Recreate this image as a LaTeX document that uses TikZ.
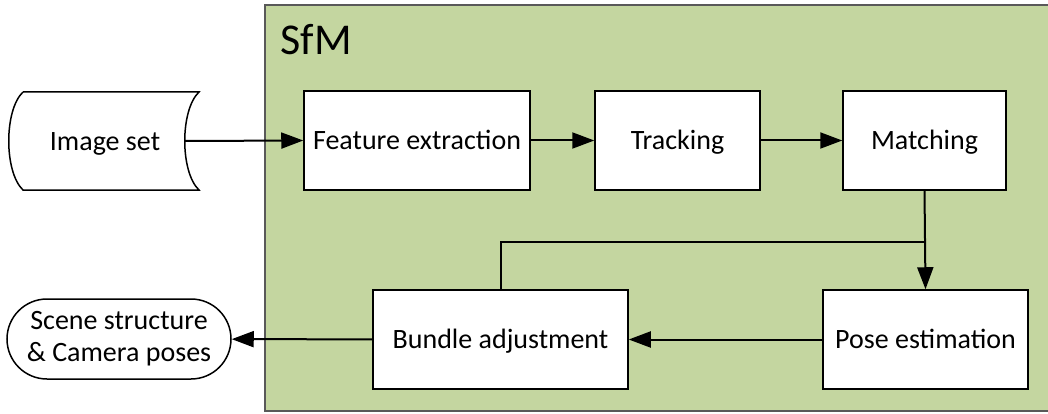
\documentclass[tikz,border=0pt]{standalone}
\usepackage{fontspec}
\setmainfont{Carlito}
\usetikzlibrary{arrows.meta,shapes.misc}
\begin{document}
\begin{tikzpicture}[x=1pt,y=-1pt,
  every node/.style={font=\fontsize{28}{32}\selectfont},
  steptext/.style={text height=20pt,text depth=2pt},
  stepbox/.style={steptext,draw=black,line width=1.5pt,fill=white,minimum height=99pt,
    inner sep=0pt},
  flow/.style={line width=2pt,-{Triangle[length=22pt,width=16pt]}},
  link/.style={line width=2pt}
]
\useasboundingbox (0,0) rectangle (1048,414);
\definecolor{sfmgreen}{HTML}{C4D6A0}
\definecolor{sfmedge}{HTML}{595959}

% SfM container
\fill[sfmgreen] (265,5) rectangle (1048,411);
\draw[sfmedge,line width=2pt] (1048,5) -- (265,5) -- (265,411) -- (1048,411);
\node[anchor=base west,font=\fontsize{44}{48}\selectfont] (title) at (277,55) {SfM};

% input data shape
\draw[line width=1.5pt,fill=white] (23,92) -- (199,92)
  .. controls (180,110) and (180,172) .. (199,190) -- (23,190)
  .. controls (4,172) and (4,110) .. (23,92);
\node[steptext] (img) at (105,141) {Image set};
\coordinate (imgout) at (185,141);

% processing steps
\node[stepbox,minimum width=226pt] (fe) at (417,140.5) {Feature extraction};
\node[stepbox,minimum width=165pt] (trk) at (677.5,140.5) {Tracking};
\node[stepbox,minimum width=163pt] (mat) at (924.5,140.5) {Matching};
\node[stepbox,minimum width=205pt] (pose) at (925.5,339.5) {Pose estimation};
\node[stepbox,minimum width=255pt] (ba) at (500.5,339.5) {Bundle adjustment};

% output
\node[draw=black,line width=1.5pt,fill=white,rounded rectangle,align=center,
  minimum width=224pt,minimum height=80pt,inner sep=0pt] (out) at (119,339)
  {Scene structure\\\& Camera poses};

% connectors
\draw[flow] (imgout) -- (fe.west);
\draw[flow] (fe) -- (trk);
\draw[flow] (trk) -- (mat);
\coordinate (split) at (mat.south |- 0,242);
\draw[flow] (mat.south) -- (pose.north);
\draw[link] (split) -| (ba.north);
\draw[flow] (pose) -- (ba);
\draw[flow] (ba) -- (out);
\end{tikzpicture}
\end{document}
